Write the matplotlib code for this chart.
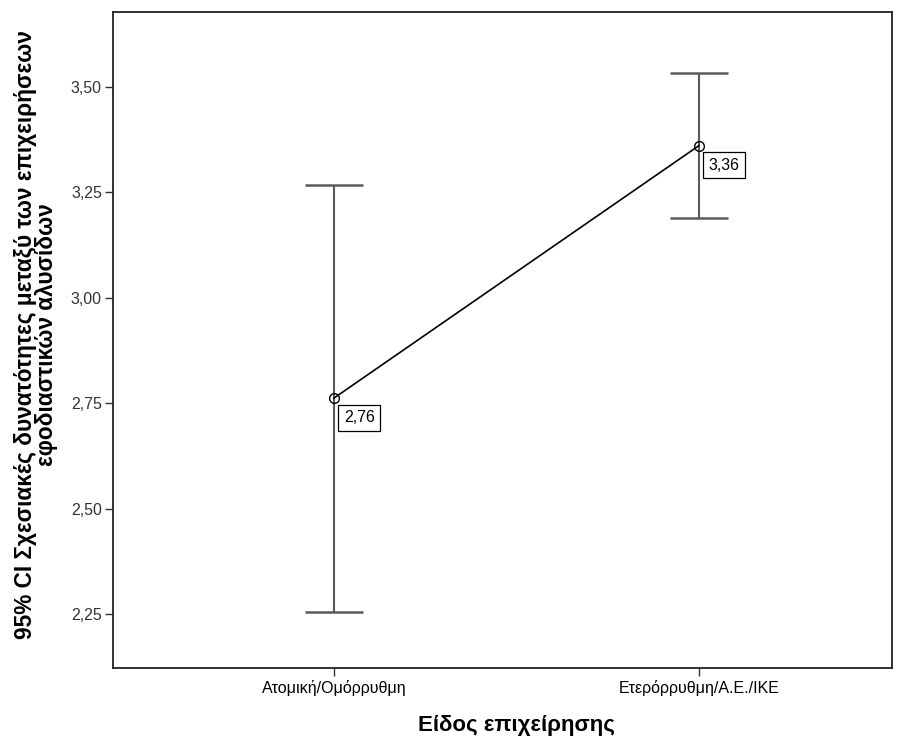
import matplotlib
matplotlib.use("Agg")
import matplotlib.pyplot as plt
import numpy as np

categories = ["Ατομική/Ομόρρυθμη", "Ετερόρρυθμη/Α.Ε./ΙΚΕ"]
means = [2.762, 3.361]
ci_low = [2.254, 3.189]
ci_high = [3.268, 3.534]
mean_labels = ["2,76", "3,36"]
yticks = [2.25, 2.50, 2.75, 3.00, 3.25, 3.50]
ytick_labels = ["2,25", "2,50", "2,75", "3,00", "3,25", "3,50"]

plt.rcParams['font.family'] = ['Liberation Sans', 'DejaVu Sans']

W, H = 909, 737
fig = plt.figure(figsize=(W/100, H/100), dpi=100)
ax = fig.add_axes([113/W, 1-668/H, (892-113)/W, (668-12)/H])

x = np.arange(len(categories))
m = np.array(means)
lo = m - np.array(ci_low)
hi = np.array(ci_high) - m

ax.errorbar(x, m, yerr=[lo, hi], fmt='none', ecolor='#5a5a5a', elinewidth=1.5,
            capsize=21, capthick=1.8, zorder=2)
ax.plot(x, m, color='black', linewidth=1.2, zorder=3)
ax.plot(x, m, 'o', markersize=7, markerfacecolor='none', markeredgecolor='black',
        markeredgewidth=1.0, zorder=4)

for xi, yi, lab in zip(x, m, mean_labels):
    ax.annotate(lab, (xi, yi), xytext=(10, -12), textcoords='offset pixels',
                ha='left', va='top', fontsize=11.5,
                bbox=dict(boxstyle='square,pad=0.35', fc='white', ec='black', lw=0.9))

ax.set_xlim(-0.605, 1.529)
ax.set_ylim(2.122, 3.678)
ax.set_xticks(x)
ax.set_xticklabels(categories, fontsize=11.5)
ax.set_yticks(yticks)
ax.set_yticklabels(ytick_labels, fontsize=11.5, color='#333333')
ax.tick_params(direction='out', length=6, width=1, color='#333333', pad=2)
ax.tick_params(axis='x', pad=3)
for s in ax.spines.values():
    s.set_linewidth(1.3)
    s.set_color('#222222')

fig.text(516/W, 1-726/H, "Είδος επιχείρησης", fontsize=16, fontweight='bold',
         ha='center', va='center')
fig.text(36/W, 1-335/H,
         "95% CI Σχεσιακές δυνατότητες μεταξύ των επιχειρήσεων\nεφοδιαστικών αλυσίδων",
         fontsize=16.3, fontweight='bold', rotation=90, ha='center', va='center',
         multialignment='center', linespacing=0.92)

fig.savefig("out.png", dpi=100)
